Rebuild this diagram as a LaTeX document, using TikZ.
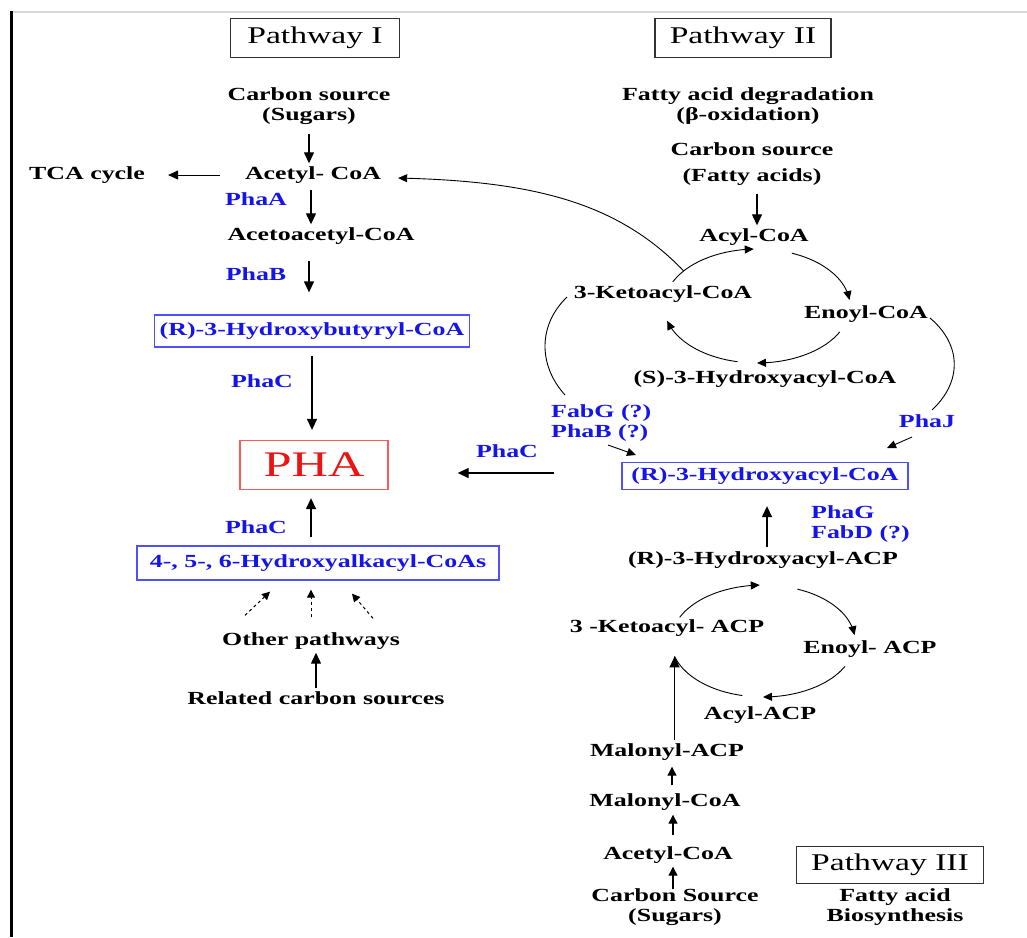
\documentclass[tikz,border=0pt]{standalone}
\usepackage{fontspec}
\setmainfont{Liberation Serif}[FakeStretch=1.4]
\usetikzlibrary{arrows.meta,calc}
\definecolor{enzblue}{RGB}{20,20,235}
\definecolor{boxblue}{RGB}{80,80,250}
\definecolor{phared}{RGB}{235,20,20}
\definecolor{phabox}{RGB}{250,90,90}
\tikzset{
  lbl/.style={font=\fontsize{18.5}{20}\selectfont\bfseries, inner sep=3pt, text height=13pt, text depth=4pt},
  lbltwo/.style={font=\fontsize{18.5}{20}\selectfont\bfseries, inner sep=3pt, align=center},
  enz/.style={lbl, text=enzblue},
  enztwo/.style={font=\fontsize{18.5}{20}\selectfont\bfseries, inner sep=3pt, align=left, text=enzblue},
  bbox/.style={draw=boxblue, line width=1.3pt, text=enzblue, font=\fontsize{18.5}{20}\selectfont\bfseries, inner sep=0pt, text height=13pt, text depth=4pt},
  pbox/.style={draw=black!80, line width=1.2pt, font=\fontsize{24}{26}\selectfont, inner sep=0pt},
  arr/.style={line width=1.3pt, -{Triangle[length=11pt,width=10pt]}},
  tarr/.style={line width=1pt, -{Triangle[length=10pt,width=9pt]}},
  sarr/.style={line width=1.3pt, -{Triangle[length=9pt,width=9pt]}},
  cyc/.style={line width=0.9pt, -{Triangle[length=9pt,width=8pt]}},
  thinl/.style={line width=0.9pt},
  darr/.style={line width=1pt, dash pattern=on 3pt off 3pt, -{Triangle[length=8pt,width=8pt]}}
}
\begin{document}
\begin{tikzpicture}[x=1pt,y=-1pt]
\useasboundingbox (0,0) rectangle (1027,937);
\fill[white] (0,0) rectangle (1027,937);
\draw[black!15, line width=1.5pt] (12,12) -- (1027,12);
\draw[line width=3pt] (11,11) -- (11,937);

% ---------------- Pathway I ----------------
\node[pbox, minimum width=169pt, minimum height=39pt] (p1) at (315,38) {Pathway I};
\node[lbltwo] (cs1) at (309,106) {Carbon source\\(Sugars)};
\node[lbl] (acoa1) at (313,175) {Acetyl- CoA};
\node[lbl] (tca) at (87,175) {TCA cycle};
\node[enz] (phaA) at (256,201) {PhaA};
\node[lbl] (aacoa) at (321,236) {Acetoacetyl-CoA};
\node[enz] (phaB) at (256,276) {PhaB};
\node[bbox, minimum width=315pt, minimum height=32pt] (hbcoa) at (312,331) {(R)-3-Hydroxybutyryl-CoA};
\node[enz] (phaC1) at (262,383) {PhaC};
\node[draw=phabox, line width=1.3pt, text=phared, font=\fontsize{36}{40}\selectfont, minimum width=148pt, minimum height=49pt, inner sep=0pt] (pha) at (314,465) {PHA};
\node[enz] (phaC2) at (256,529) {PhaC};
\node[bbox, minimum width=362pt, minimum height=34pt] (hac) at (318,563) {4-, 5-, 6-Hydroxyalkacyl-CoAs};
\node[lbl] (op) at (311,641) {Other pathways};
\node[lbl] (rcs) at (316,700) {Related carbon sources};

\draw[arr, shorten <=6pt] (cs1.south) -- (cs1.south |- acoa1.north);
\draw[tarr, shorten <=22pt, shorten >=20pt] (acoa1.west) -- (tca.east);
\draw[arr, shorten <=3pt] ([xshift=-2pt]acoa1.south) -- ([xshift=-2pt]acoa1.south |- aacoa.north);
\draw[arr, shorten <=13pt, shorten >=22pt] ([xshift=-12pt]aacoa.south) -- ([xshift=-12pt]aacoa.south |- hbcoa.north);
\draw[arr, shorten <=8pt, shorten >=10pt] (hbcoa.south) -- (hbcoa.south |- pha.north);
\draw[arr, shorten <=8pt, shorten >=8pt] ([xshift=-7pt]hac.north) -- ([xshift=-7pt]hac.north |- pha.south);
\draw[darr] ($(op.north)+(-66,-14)$) -- ($(hac.south)+(-48,11)$);
\draw[darr] ($(op.north)+(0,-12)$) -- ($(hac.south)+(-7,9)$);
\draw[darr] ($(op.north)+(62,-11)$) -- ($(hac.south)+(34,13)$);
\draw[arr] (rcs.north) -- (rcs.north |- op.south);

% ---------------- Pathway II ----------------
\node[pbox, minimum width=176pt, minimum height=39pt] (p2) at (743,38) {Pathway II};
\node[lbltwo] (fad) at (748,106) {Fatty acid degradation\\(β-oxidation)};
\node[lbltwo] (cs2) at (752,164) {Carbon source\\[6pt](Fatty acids)};
\node[lbl] (acyl) at (754,237) {Acyl-CoA};
\node[lbl] (kcoa) at (663,294) {3-Ketoacyl-CoA};
\node[lbl] (ecoa) at (866,314) {Enoyl-CoA};
\node[lbl] (shcoa) at (765,379) {(S)-3-Hydroxyacyl-CoA};
\node[enztwo, anchor=west] (fabg) at (548,423) {FabG (?)\\PhaB (?)};
\node[enz] (phaJ) at (927,423) {PhaJ};
\node[bbox, minimum width=286pt, minimum height=27pt] (rhc) at (765,476) {(R)-3-Hydroxyacyl-CoA};
\node[enz] (phaC3) at (507,453) {PhaC};
\node[enztwo, anchor=west] (phag) at (808,524) {PhaG\\FabD (?)};

\draw[arr, shorten <=5pt] ([xshift=5pt]cs2.south) -- ([xshift=5pt]cs2.south |- acyl.north);

\coordinate (c1) at (757,306);
\draw[cyc, shift={(c1)}] plot[smooth, domain=205:268, samples=10] ({93*cos(\x)},{57*sin(\x)});
\draw[cyc, shift={(c1)}] plot[smooth, domain=292:354, samples=10] ({93*cos(\x)},{57*sin(\x)});
\draw[cyc, shift={(c1)}] plot[smooth, domain=27:90, samples=10] ({93*cos(\x)},{57*sin(\x)});
\draw[cyc, shift={(c1)}] plot[smooth, domain=102:165, samples=10] ({93*cos(\x)},{57*sin(\x)});

\draw[thinl, -{Triangle[length=9pt,width=8pt]}] ($(c1)+(218:93 and 57)$) .. controls (620,205) and (540,182) .. ($(acoa1.east)+(14,3)$);

\coordinate (kb1) at (567,297);
\coordinate (kb2) at (565,395);
\draw[thinl] (kb1) .. controls (538,325) and (538,365) .. (kb2);
\coordinate (fg1) at (608,445);
\coordinate (fg2) at (636,455);
\draw[cyc] (fg1) -- (fg2);
\coordinate (eb1) at (930,318);
\coordinate (eb2) at (932,410);
\draw[thinl] (eb1) .. controls (962,345) and (962,382) .. (eb2);
\coordinate (pj1) at (912,437);
\coordinate (pj2) at (887,448);
\draw[cyc] (pj1) -- (pj2);

\draw[arr] ($(rhc.west)+(-67,-3)$) -- ($(pha.east)+(69,8)$);

% ---------------- Pathway III ----------------
\node[lbl] (racp) at (763,560) {(R)-3-Hydroxyacyl-ACP};
\node[lbl] (kacp) at (667,628) {3 -Ketoacyl- ACP};
\node[lbl] (eacp) at (870,649) {Enoyl- ACP};
\node[lbl] (aacp) at (760,715) {Acyl-ACP};
\node[lbl] (macp) at (667,752) {Malonyl-ACP};
\node[lbl] (mcoa) at (665,802) {Malonyl-CoA};
\node[lbl] (acoa3) at (668,855) {Acetyl-CoA};
\node[lbltwo] (cs3) at (675,907) {Carbon Source\\(Sugars)};
\node[pbox, minimum width=187pt, minimum height=37pt] (p3) at (890,865) {Pathway III};
\node[lbltwo] (fab) at (895,907) {Fatty acid\\Biosynthesis};

\draw[arr, shorten <=1pt, shorten >=16pt] ([xshift=4pt]racp.north) -- ([xshift=4pt]racp.north |- rhc.south);

\coordinate (c2) at (763,641);
\draw[cyc, shift={(c2)}] plot[smooth, domain=205:268, samples=10] ({92*cos(\x)},{56*sin(\x)});
\draw[cyc, shift={(c2)}] plot[smooth, domain=292:354, samples=10] ({92*cos(\x)},{56*sin(\x)});
\draw[cyc, shift={(c2)}] plot[smooth, domain=27:90, samples=10] ({92*cos(\x)},{56*sin(\x)});
\draw[thinl, shift={(c2)}] plot[smooth, domain=103:164, samples=10] ({92*cos(\x)},{56*sin(\x)});

\coordinate (k2end) at ($(c2)+(164:92 and 56)$);
\draw[arr] (macp.north -| k2end) -- (k2end);
\draw[sarr, shorten <=5pt, shorten >=3pt] ([xshift=7pt]mcoa.north) -- ([xshift=7pt]mcoa.north |- macp.south);
\draw[sarr, shorten <=8pt, shorten >=1pt] ([xshift=5pt]acoa3.north) -- ([xshift=5pt]acoa3.north |- mcoa.south);
\draw[sarr, shorten <=-4pt] ([xshift=-2pt]cs3.north) -- ([xshift=-2pt]cs3.north |- acoa3.south);
\end{tikzpicture}
\end{document}
